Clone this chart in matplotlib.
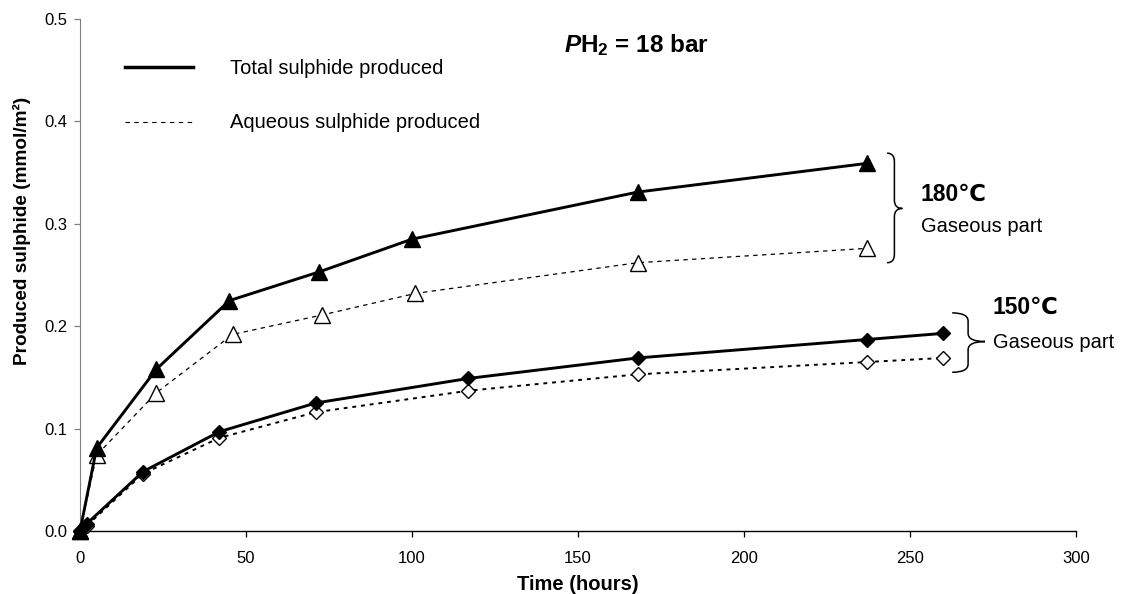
import matplotlib.pyplot as plt
from matplotlib.lines import Line2D
from matplotlib.path import Path
from matplotlib.patches import PathPatch

plt.rcParams['font.family'] = ['Liberation Sans', 'DejaVu Sans']
plt.rcParams['mathtext.fontset'] = 'custom'
plt.rcParams['mathtext.rm'] = 'Liberation Sans'
plt.rcParams['mathtext.bf'] = 'Liberation Sans:bold'
plt.rcParams['mathtext.it'] = 'Liberation Sans:italic'
plt.rcParams['mathtext.bfit'] = 'Liberation Sans:italic:bold'

# 180 C series
t180_total = [0, 5, 23, 45, 72, 100, 168, 237]
s180_total = [0.0, 0.081, 0.158, 0.225, 0.253, 0.285, 0.331, 0.359]
t180_aq = [0, 5, 23, 46, 73, 101, 168, 237]
s180_aq = [0.0, 0.074, 0.135, 0.192, 0.211, 0.232, 0.262, 0.276]

# 150 C series
t150_total = [0, 2, 19, 42, 71, 117, 168, 237, 260]
s150_total = [0.0, 0.007, 0.058, 0.097, 0.125, 0.149, 0.169, 0.187, 0.193]
t150_aq = [0, 2, 19, 42, 71, 117, 168, 237, 260]
s150_aq = [0.0, 0.005, 0.056, 0.091, 0.116, 0.137, 0.153, 0.165, 0.169]

xticks = [0, 50, 100, 150, 200, 250, 300]
yticks = [0.0, 0.1, 0.2, 0.3, 0.4, 0.5]

W, H = 1122, 594


def fx(px):
    return px / W


def fy(py):
    return 1 - py / H


def brace(ax, x0, xv, xt, y0, y1, ym, r):
    # curly brace: ends at x0, spine at xv, tip at xt (data units)
    verts = [(x0, y1), (xv, y1), (xv, y1 - r),
             (xv, ym + r),
             (xv, ym), (xt, ym),
             (xv, ym), (xv, ym - r),
             (xv, y0 + r),
             (xv, y0), (x0, y0)]
    codes = [Path.MOVETO, Path.CURVE3, Path.CURVE3,
             Path.LINETO,
             Path.CURVE3, Path.CURVE3,
             Path.CURVE3, Path.CURVE3,
             Path.LINETO,
             Path.CURVE3, Path.CURVE3]
    ax.add_patch(PathPatch(Path(verts, codes), fill=False, lw=1.1,
                           edgecolor='black', clip_on=False))


fig = plt.figure(figsize=(11.22, 5.94), dpi=100)
ax = fig.add_axes([fx(80), fy(531), fx(1076) - fx(80), fy(19) - fy(531)])

ax.plot(t180_aq, s180_aq, color='black', lw=0.9, ls=(0, (3.5, 3.5)), marker='^',
        ms=11.5, mfc='white', mec='black', mew=1.0, clip_on=False, zorder=3)
ax.plot(t180_total, s180_total, '-', color='black', lw=2.1, marker='^',
        ms=11.5, mfc='black', mec='black', clip_on=False, zorder=4)
ax.plot(t150_aq, s150_aq, color='black', lw=1.4, ls=(0, (2, 2.5)), marker='D',
        ms=7.6, mfc='white', mec='black', mew=1.0, clip_on=False, zorder=3)
ax.plot(t150_total, s150_total, '-', color='black', lw=2.1, marker='D',
        ms=7.6, mfc='black', mec='black', clip_on=False, zorder=4)

ax.set_xlim(0, 300)
ax.set_ylim(0, 0.5)
ax.set_xticks(xticks)
ax.set_yticks(yticks)
ax.set_yticklabels([f'{v:.1f}' for v in yticks])
ax.spines['top'].set_visible(False)
ax.spines['right'].set_visible(False)
ax.spines['left'].set_color('#7f7f7f')
ax.spines['bottom'].set_linewidth(1.0)
ax.tick_params(axis='x', direction='out', length=4, width=0.9, labelsize=12,
               pad=10.5)
ax.tick_params(axis='y', direction='out', length=4, width=0.9, labelsize=12,
               pad=5, color='#7f7f7f')

ax.set_xlabel('Time (hours)', fontsize=14.5, fontweight='bold', va='center')
ax.xaxis.set_label_coords(0.5, (531 - 585) / 512)
ax.set_ylabel('Produced sulphide (mmol/m²)', fontsize=13.7, fontweight='bold',
              va='center')
ax.yaxis.set_label_coords((22 - 80) / 996, (531 - 231) / 512)

# legend drawn by hand
fig.add_artist(Line2D([fx(125), fx(193)], [fy(67), fy(67)], color='black',
                      lw=2.5))
fig.add_artist(Line2D([fx(125), fx(193)], [fy(122), fy(122)], color='black',
                      lw=0.8, ls=(0, (4, 4))))
fig.text(fx(230), fy(68), 'Total sulphide produced', fontsize=14.5,
         ha='left', va='center')
fig.text(fx(230), fy(123), 'Aqueous sulphide produced', fontsize=14.5,
         ha='left', va='center')

fig.text(fx(636), fy(45), r'$\mathbfit{P}\mathbf{H}_{\mathbf{2}}$ = 18 bar',
         fontsize=17.5, fontweight='bold', ha='center', va='center')

fig.text(fx(921), fy(194), '180℃', fontsize=16.5, fontweight='bold',
         ha='left', va='center')
fig.text(fx(921), fy(227), 'Gaseous part', fontsize=14.5,
         ha='left', va='center')
fig.text(fx(992), fy(307), '150℃', fontsize=16.5, fontweight='bold',
         ha='left', va='center')
fig.text(fx(993), fy(342), 'Gaseous part', fontsize=14.5,
         ha='left', va='center')

brace(ax, 243.1, 245.3, 247.7, 0.262, 0.369, 0.315, 0.008)
brace(ax, 262.7, 267.5, 272.6, 0.155, 0.213, 0.185, 0.008)

fig.savefig('out.png', dpi=100)
